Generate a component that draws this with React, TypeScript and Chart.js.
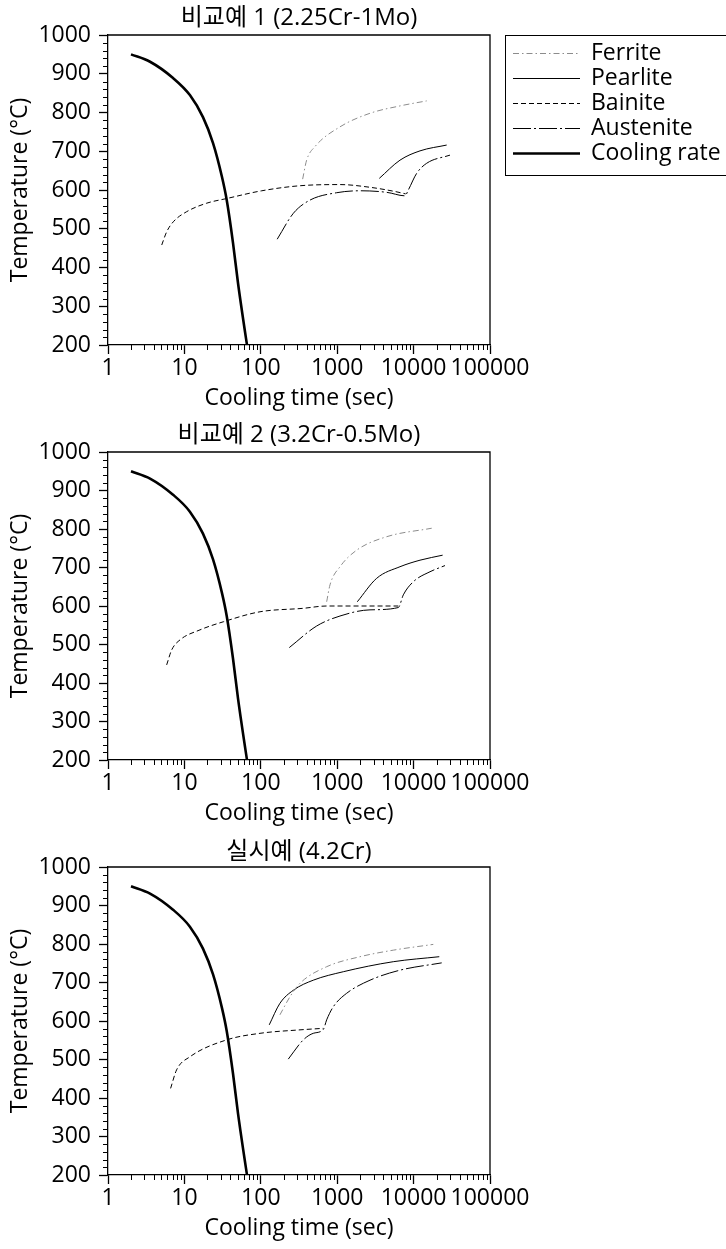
import React, { useEffect, useRef } from 'react';
import { Chart, registerables } from 'chart.js';

Chart.register(...registerables);

type Pt = [number, number];

// ---- tick / label data ----
const xMajorTicks = [1, 10, 100, 1000, 10000, 100000];
const yRange = [200, 1000];
const chartTitles = ['비교예 1 (2.25Cr-1Mo)', '비교예 2 (3.2Cr-0.5Mo)', '실시예 (4.2Cr)'];
const seriesNames = ['Ferrite', 'Pearlite', 'Bainite', 'Austenite', 'Cooling rate'];
const xTitle = 'Cooling time (sec)';
const yTitle = 'Temperature (°C)';

// ---- series values (time s, temperature °C) ----
const coolingRate: Pt[] = [
  [2, 950], [3.55, 931], [7.1, 889], [11.8, 845], [17.5, 788], [23.7, 721],
  [31, 634], [35.8, 574], [43.3, 463], [50.3, 360], [65.4, 205], [66, 200],
];

const ferrite1: Pt[] = [[353, 628], [398, 677], [512, 712], [1088, 763], [2688, 798], [6637, 817], [14840, 830]];
const pearlite1: Pt[] = [[3556, 630], [6637, 677], [12130, 701], [27100, 716]];
const bainite1: Pt[] = [
  [5.05, 458], [5.86, 492], [7.16, 518], [10.7, 544], [19.6, 566], [35.8, 578],
  [103, 598], [326, 611], [1088, 614], [2688, 607], [5420, 597], [7880, 590],
];
const austenite1: Pt[] = [
  [164, 473], [267, 540], [441, 574], [984, 593], [1988, 598], [4447, 594], [7710, 585],
  [8530, 600], [10970, 643], [14840, 669], [29940, 690],
];

const ferrite2: Pt[] = [[728, 611], [805, 655], [1088, 702], [1798, 745], [4447, 780], [17260, 802]];
const pearlite2: Pt[] = [[1833, 611], [3289, 672], [6637, 702], [12130, 719], [23990, 732]];
const bainite2: Pt[] = [
  [5.86, 447], [6.82, 486], [8.76, 512], [16, 538], [32.3, 559], [97.7, 585], [360, 594], [728, 600], [6310, 600],
];
const austenite2: Pt[] = [
  [236, 492], [538, 548], [1088, 574], [2688, 590], [6310, 596], [7340, 629], [9910, 663], [16400, 689], [25760, 705],
];

const ferrite3: Pt[] = [[178, 616], [241, 663], [326, 698], [728, 741], [1988, 767], [5420, 784], [18110, 799]];
const pearlite3: Pt[] = [[129, 590], [178, 646], [267, 680], [486, 706], [1202, 728], [5420, 754], [21680, 767]];
const bainite3: Pt[] = [[6.6, 425], [7.9, 473], [11.8, 507], [35.8, 551], [97.7, 568], [326, 577], [658, 581]];
const austenite3: Pt[] = [
  [229, 501], [360, 551], [486, 568], [658, 578], [728, 603], [889, 637], [1330, 672], [2688, 706], [6637, 732], [23330, 751],
];

// ---- styles ----
const FONT = "'Open Sans', 'Noto Sans CJK KR', sans-serif";
const FS = 23;
const TITLE_FS = 24;
const styleColor = ['#8c8c8c', '#000000', '#000000', '#000000', '#000000'];
const styleDash: number[][] = [[6, 3, 1.5, 3], [], [5, 3], [18, 3, 2, 3], []];
const styleWidth = [1, 1, 1, 1, 2.6];

const panels = [
  { title: chartTitles[0], series: [ferrite1, pearlite1, bainite1, austenite1], legend: true, height: 415, titlePad: { top: 3.6, bottom: 2.6 }, padBottom: 0 },
  { title: chartTitles[1], series: [ferrite2, pearlite2, bainite2, austenite2], legend: false, height: 415, titlePad: { top: 5.6, bottom: 2.6 }, padBottom: 0 },
  { title: chartTitles[2], series: [ferrite3, pearlite3, bainite3, austenite3], legend: false, height: 419, titlePad: { top: 7.3, bottom: 0.9 }, padBottom: 4 },
];

const isPow10 = (v: number) => Math.abs(Math.log10(v) - Math.round(Math.log10(v))) < 1e-9;

const framePlugin = {
  id: 'frame',
  afterDraw(chart: any, _args: any, opts: any) {
    const { ctx, chartArea: a, scales } = chart;
    ctx.save();
    ctx.strokeStyle = '#000';
    ctx.lineWidth = 1.3;
    ctx.setLineDash([]);
    ctx.beginPath();
    ctx.moveTo(a.left, a.top);
    ctx.lineTo(a.right, a.top);
    ctx.lineTo(a.right, a.bottom);
    ctx.stroke();
    // minor ticks
    ctx.lineWidth = 1;
    const xs = scales.x;
    const ys = scales.y;
    ctx.beginPath();
    for (let d = 0; d < xMajorTicks.length - 1; d++) {
      for (let k = 2; k <= 9; k++) {
        const px = Math.round(xs.getPixelForValue(k * xMajorTicks[d])) + 0.5;
        ctx.moveTo(px, a.bottom);
        ctx.lineTo(px, a.bottom + 5);
      }
    }
    for (let v = yRange[0] + 20; v < yRange[1]; v += 20) {
      if (v % 100 === 0) continue;
      const py = Math.round(ys.getPixelForValue(v)) + 0.5;
      ctx.moveTo(a.left - 5, py);
      ctx.lineTo(a.left, py);
    }
    ctx.stroke();
    if (opts && opts.legend) {
      ctx.lineWidth = 1;
      ctx.strokeRect(505.5, 35.5, 240, 140);
      ctx.font = `${FS}px ${FONT}`;
      ctx.fillStyle = '#000';
      ctx.textBaseline = 'middle';
      ctx.textAlign = 'left';
      seriesNames.forEach((name, i) => {
        const y = 53 + 25 * i;
        ctx.strokeStyle = styleColor[i];
        ctx.lineWidth = styleWidth[i];
        ctx.setLineDash(styleDash[i]);
        ctx.beginPath();
        ctx.moveTo(513, y + 0.5);
        ctx.lineTo(580, y + 0.5);
        ctx.stroke();
        ctx.setLineDash([]);
        ctx.fillText(name, 591, y);
      });
    }
    ctx.restore();
  },
};

function Panel({ idx }: { idx: number }) {
  const ref = useRef<HTMLCanvasElement | null>(null);
  const p = panels[idx];
  useEffect(() => {
    if (!ref.current) return;
    const toData = (pts: Pt[]) => pts.map(([x, y]) => ({ x, y }));
    const allSeries = [coolingRate, ...p.series];
    const order = [4, 0, 1, 2, 3];
    const datasets = order.map((si, j) => ({
      label: seriesNames[si],
      data: toData(allSeries[j]),
      borderColor: styleColor[si],
      borderWidth: styleWidth[si],
      borderDash: styleDash[si],
      showLine: true,
      pointRadius: 0,
      fill: false,
      tension: 0.4,
      cubicInterpolationMode: 'monotone' as const,
    }));
    const chart = new Chart(ref.current, {
      type: 'scatter',
      data: { datasets },
      plugins: [framePlugin],
      options: {
        animation: false,
        responsive: false,
        devicePixelRatio: 1,
        font: { family: FONT, size: FS },
        color: '#000',
        layout: { padding: { left: 0, top: 0, right: 236, bottom: p.padBottom } },
        plugins: {
          legend: { display: false },
          tooltip: { enabled: false },
          title: {
            display: true,
            text: p.title,
            fullSize: false,
            color: '#000',
            font: { family: FONT, size: TITLE_FS, weight: 'normal', lineHeight: 1.2 },
            padding: p.titlePad,
          },
          frame: { legend: p.legend },
        } as any,
        scales: {
          x: {
            type: 'logarithmic',
            min: xMajorTicks[0],
            max: xMajorTicks[xMajorTicks.length - 1],
            afterBuildTicks: (scale: any) => {
              scale.ticks = scale.ticks.filter((t: any) => isPow10(t.value));
            },
            afterFit: (scale: any) => { scale.height = 70; },
            ticks: {
              autoSkip: false,
              maxRotation: 0,
              minRotation: 0,
              padding: 1,
              color: '#000',
              font: { family: FONT, size: FS },
              callback: (v: any) => String(v),
            },
            grid: { display: true, drawOnChartArea: false, drawTicks: true, tickLength: 9, tickColor: '#000', tickWidth: 1.3 },
            border: { display: true, color: '#000', width: 1.3 },
            title: { display: true, text: xTitle, color: '#000', font: { family: FONT, size: FS }, padding: { top: 0, bottom: 3.2 } },
          },
          y: {
            type: 'linear',
            min: yRange[0],
            max: yRange[1],
            afterFit: (scale: any) => { scale.width = 108; },
            ticks: { stepSize: 100, padding: 8, color: '#000', font: { family: FONT, size: FS }, callback: (v: any) => String(v) },
            grid: { display: true, drawOnChartArea: false, drawTicks: true, tickLength: 9, tickColor: '#000', tickWidth: 1.3 },
            border: { display: true, color: '#000', width: 1.3 },
            title: { display: true, text: yTitle, color: '#000', font: { family: FONT, size: FS }, padding: { top: 6.2, bottom: 0 } },
          },
        },
      } as any,
    });
    return () => chart.destroy();
  }, []);
  return <canvas ref={ref} width={726} height={p.height} style={{ display: 'block', width: 726, height: p.height }} />;
}

export default function App() {
  return (
    <div style={{ position: 'absolute', left: 0, top: 0, width: 726, height: 1249, overflow: 'hidden', background: '#fff' }}>
      {panels.map((_, i) => <Panel key={i} idx={i} />)}
    </div>
  );
}
